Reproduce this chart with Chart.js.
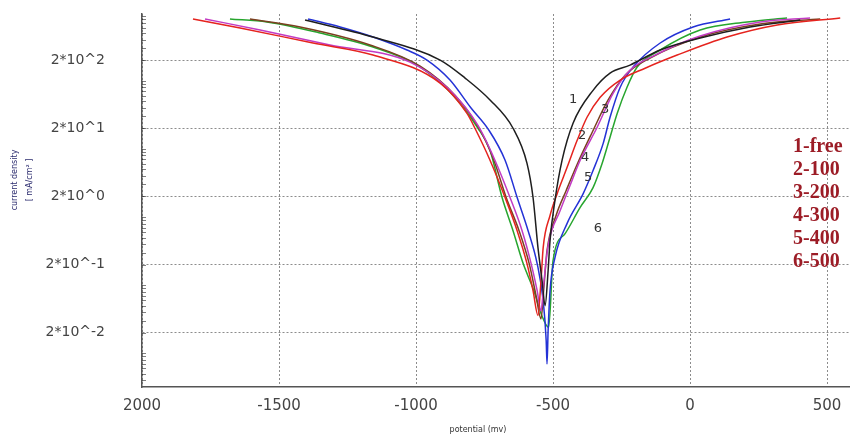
<!DOCTYPE html>
<html>
<head>
<meta charset="utf-8">
<script src="https://cdn.jsdelivr.net/npm/chart.js@4/dist/chart.umd.min.js"></script>
<style>
  html, body { margin: 0; padding: 0; background: #fff; }
  #wrap { width: 850px; height: 436px; }
</style>
</head>
<body>
<div id="wrap"><canvas id="c" width="850" height="436"></canvas></div>
<script>
// Polarisation curves: potential (mV) vs current density (mA/cm²), log scale
const seriesNames = ['1-free', '2-100', '3-200', '4-300', '5-400', '6-500'];
const curveNumbers = ['1', '2', '3', '4', '5', '6'];
const xTickValues = [-2000, -1500, -1000, -500, 0, 500];
const yTickValues = [0.02, 0.2, 2, 20, 200];

const potential1 = [-1405, -1157, -912, -821, -730, -646, -595, -573, -555, -540, -529, -518, -511, -493, -467, -427, -354, -292, -219, -109, 37, 219, 402];
const current1   = [775, 436, 200, 109, 52, 20, 6.1, 1.93, 0.356, 0.116, 0.050, 0.163, 0.45, 1.75, 6.8, 23.7, 72, 129, 169, 281, 421, 611, 775];

const potential2 = [-1814, -1642, -1376, -1157, -912, -814, -785, -730, -675, -631, -595, -573, -555, -544, -536, -511, -485, -449, -412, -376, -328, -255, -164, -47, 135, 318, 548];
const current2   = [802, 591, 356, 237, 92, 33, 20, 6.8, 1.93, 0.63, 0.207, 0.083, 0.036, 0.116, 0.356, 1.05, 2.2, 5.3, 13.3, 29, 57, 102, 152, 237, 436, 655, 830];

const potential3 = [-1770, -1569, -1314, -1022, -876, -774, -712, -657, -613, -580, -558, -544, -533, -518, -474, -438, -401, -339, -281, -219, -128, 37, 256, 438];
const current3   = [802, 552, 333, 187, 72, 22, 6.8, 1.93, 0.63, 0.207, 0.083, 0.042, 0.116, 0.38, 1.24, 2.9, 6.8, 20.7, 65, 143, 237, 451, 724, 830];

const potential4 = [-1606, -1423, -1168, -985, -858, -766, -716, -671, -624, -587, -562, -544, -533, -522, -489, -452, -409, -357, -299, -237, -146, 37, 256, 475];
const current4   = [802, 611, 333, 163, 61, 18.7, 6.8, 1.93, 0.63, 0.207, 0.070, 0.032, 0.098, 0.32, 1.05, 2.45, 6.3, 17.5, 52, 120, 214, 436, 677, 802];

const potential5 = [-1394, -1277, -1157, -1033, -960, -876, -800, -735, -675, -631, -591, -558, -536, -525, -522, -518, -511, -493, -449, -390, -354, -317, -292, -255, -208, -109, 11, 146];
const current5   = [802, 611, 436, 281, 200, 102, 40, 19, 6.8, 1.93, 0.63, 0.207, 0.059, 0.0153, 0.007, 0.0214, 0.083, 0.254, 0.80, 2.2, 4.8, 12.0, 29, 80, 158, 356, 611, 802];

const potential6 = [-1679, -1544, -1350, -1157, -996, -876, -774, -730, -686, -646, -609, -570, -540, -516, -500, -456, -401, -354, -321, -292, -266, -230, -193, -109, 37, 208, 354];
const current6   = [802, 724, 499, 311, 169, 68, 20, 9.5, 1.93, 0.63, 0.207, 0.083, 0.035, 0.024, 0.23, 0.57, 1.38, 2.7, 6.1, 14.8, 33, 80, 158, 281, 552, 724, 830];

// where each curve number sits (potential, current)
const labelPotential = [-427, -394, -310, -383, -372, -336];
const labelCurrent   = [52, 15.8, 37, 7.5, 3.8, 0.68];

const potentials = [potential1, potential2, potential3, potential4, potential5, potential6];
const currents = [current1, current2, current3, current4, current5, current6];
const lineColors = ['#1e1e1e', '#e5231e', '#c23bc4', '#7a4020', '#2432d6', '#27a52e'];

const datasets = potentials.map((p, k) => ({
  label: seriesNames[k],
  data: p.map((v, i) => ({ x: v, y: currents[k][i] })),
  borderColor: lineColors[k],
  borderWidth: 1.5,
  pointRadius: 0,
  showLine: true,
  fill: false,
  cubicInterpolationMode: 'monotone'
}));

// small minor ticks on the inner side of the log axis
const minorTicks = {
  id: 'minorTicks',
  afterDraw(chart) {
    const { ctx, scales: { y }, chartArea } = chart;
    ctx.save();
    ctx.strokeStyle = 'rgba(0,0,0,0.5)';
    ctx.lineWidth = 1;
    ctx.beginPath();
    for (let e = -3; e <= 3; e++) {
      for (let k = 1; k <= 9; k++) {
        const v = k * Math.pow(10, e);
        if (v < y.min || v > y.max) continue;
        const py = Math.round(y.getPixelForValue(v)) + 0.5;
        ctx.moveTo(chartArea.left, py);
        ctx.lineTo(chartArea.left + 4, py);
      }
    }
    ctx.stroke();
    ctx.restore();
  }
};

const textLayer = {
  id: 'textLayer',
  afterDraw(chart) {
    const { ctx, scales: { x, y } } = chart;
    ctx.save();
    // curve numbers
    ctx.font = '13px "DejaVu Sans"';
    ctx.fillStyle = '#333';
    ctx.textAlign = 'center';
    ctx.textBaseline = 'middle';
    curveNumbers.forEach((t, i) => {
      ctx.fillText(t, x.getPixelForValue(labelPotential[i]), y.getPixelForValue(labelCurrent[i]));
    });
    // series key on the right
    ctx.font = 'bold 20px "Liberation Serif"';
    ctx.fillStyle = '#9c1c26';
    ctx.textAlign = 'left';
    seriesNames.forEach((t, i) => {
      ctx.fillText(t, 793, 147 + i * 23);
    });
    // axis titles
    ctx.font = '8px "DejaVu Sans"';
    ctx.fillStyle = '#333';
    ctx.textAlign = 'center';
    ctx.fillText('potential (mv)', 478, 430);
    ctx.fillStyle = '#2b2b6e';
    ctx.translate(15, 180);
    ctx.rotate(-Math.PI / 2);
    ctx.fillText('current density', 0, 0);
    ctx.fillText('[ mA/cm² ]', 0, 15);
    ctx.restore();
  }
};

new Chart(document.getElementById('c'), {
  type: 'scatter',
  data: { datasets },
  options: {
    responsive: false,
    animation: false,
    layout: { padding: { top: 14, right: 1, left: 0, bottom: 0 } },
    plugins: { legend: { display: false }, tooltip: { enabled: false } },
    scales: {
      x: {
        type: 'linear',
        min: -2000,
        max: 580,
        afterBuildTicks: s => { s.ticks = xTickValues.map(v => ({ value: v })); },
        afterFit: s => { s.height = 49; s.paddingLeft = 0; s.paddingRight = 0; },
        ticks: {
          padding: 10,
          color: '#444',
          font: { family: 'DejaVu Sans', size: 15 },
          maxRotation: 0,
          callback: v => (v === -2000 ? '2000' : String(v))
        },
        grid: { color: 'rgba(0,0,0,0.45)', lineWidth: 1, drawTicks: false },
        border: { display: true, color: '#555', width: 1.5, dash: [2, 2] }
      },
      y: {
        type: 'logarithmic',
        min: 0.00321,
        max: 948,
        afterBuildTicks: s => { s.ticks = yTickValues.map(v => ({ value: v })); },
        afterFit: s => { s.width = 142; s.paddingTop = 0; s.paddingBottom = 0; },
        ticks: {
          padding: 37,
          color: '#444',
          font: { family: 'DejaVu Sans', size: 14 },
          callback: v => '2*10^' + Math.round(Math.log10(v / 2))
        },
        grid: { color: 'rgba(0,0,0,0.45)', lineWidth: 1, drawTicks: false },
        border: { display: true, color: '#555', width: 1.5, dash: [2, 2] }
      }
    }
  },
  plugins: [minorTicks, textLayer]
});
</script>
</body>
</html>
